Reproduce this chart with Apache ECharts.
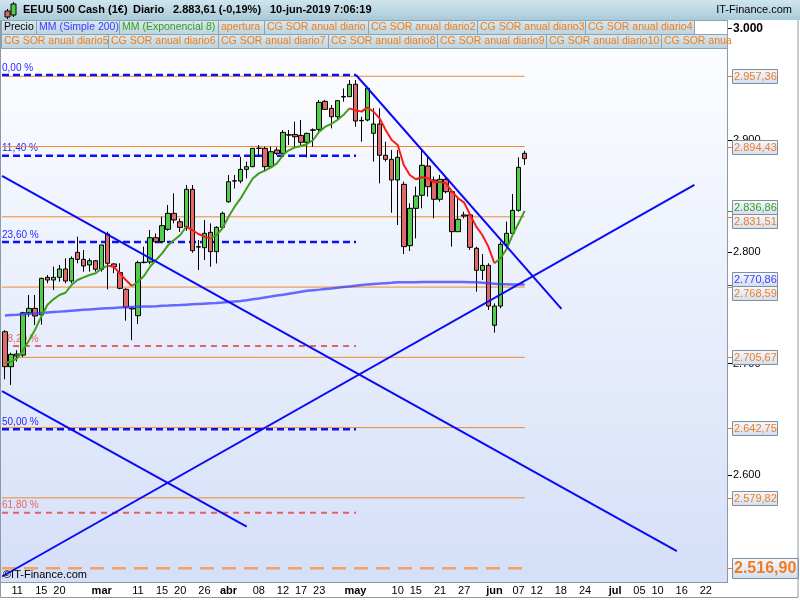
<!DOCTYPE html>
<html><head><meta charset="utf-8">
<script src="https://cdn.jsdelivr.net/npm/echarts@6/dist/echarts.min.js"></script>
<style>html,body{margin:0;padding:0;background:#fff;}#c{width:800px;height:600px;}</style>
</head><body><div id="c"></div>
<script>
// ---------- DATA ----------
const holidays = ['2019-04-19'];
const categories = (function () {
  const out = []; const d = new Date(Date.UTC(2019, 1, 7)); const end = Date.UTC(2019, 6, 25);
  while (d.getTime() <= end) {
    const wd = d.getUTCDay(); const s = d.toISOString().slice(0, 10);
    if (wd !== 0 && wd !== 6 && holidays.indexOf(s) < 0) out.push(s);
    d.setUTCDate(d.getUTCDate() + 1);
  }
  return out;
})();

const xTickLabels = [
  ['2019-02-11','11'],['2019-02-15','15'],['2019-02-20','20'],['2019-03-01','mar'],['2019-03-11','11'],
  ['2019-03-15','15'],['2019-03-20','20'],['2019-03-26','26'],['2019-04-01','abr'],['2019-04-08','08'],
  ['2019-04-12','12'],['2019-04-17','17'],['2019-04-23','23'],['2019-05-01','may'],['2019-05-10','10'],
  ['2019-05-15','15'],['2019-05-21','21'],['2019-05-27','27'],['2019-06-03','jun'],['2019-06-07','07'],
  ['2019-06-12','12'],['2019-06-18','18'],['2019-06-24','24'],['2019-07-01','jul'],['2019-07-05','05'],
  ['2019-07-10','10'],['2019-07-16','16'],['2019-07-22','22']
];
const monthLabels = ['mar','abr','may','jun','jul'];

const opens = [2728.6,2697.3,2706.8,2707.7,2745.6,2749.5,2743.6,2777.3,2774.9,2777.3,2784.8,2774.0,2799.7,2793.4,2788.4,2792.2,2784.5,2816.1,2789.3,2781.5,2766.6,2749.6,2743.0,2790.5,2791.0,2812.8,2809.2,2820.3,2834.6,2827.1,2822.6,2856.1,2804.7,2803.8,2817.6,2800.3,2822.1,2845.0,2863.8,2863.5,2874.0,2876.4,2892.8,2892.8,2876.4,2891.3,2888.3,2904.7,2905.3,2904.4,2898.2,2909.0,2909.8,2934.9,2928.6,2921.1,2938.8,2939.1,2950.2,2917.9,2918.2,2906.3,2914.6,2886.6,2883.0,2864.5,2860.6,2805.7,2839.1,2850.8,2877.0,2864.5,2847.2,2865.1,2854.0,2818.2,2832.2,2833.2,2803.3,2783.6,2788.0,2734.4,2751.6,2806.9,2816.7,2837.3,2888.4];
const closes = [2697.3,2708.3,2708.6,2745.6,2749.5,2742.7,2776.4,2774.9,2777.3,2784.8,2774.0,2794.3,2793.4,2787.5,2792.2,2784.5,2806.3,2789.9,2786.9,2767.5,2750.5,2749.0,2790.5,2790.9,2812.8,2809.2,2823.6,2834.6,2828.7,2822.0,2856.1,2801.2,2804.4,2816.7,2800.3,2822.1,2834.6,2862.9,2863.5,2874.0,2876.4,2892.8,2893.0,2876.4,2889.8,2888.3,2907.1,2905.0,2903.2,2898.2,2906.2,2909.4,2934.0,2927.7,2921.1,2935.5,2939.3,2950.1,2917.3,2917.5,2946.6,2914.6,2886.6,2883.0,2864.5,2884.8,2804.8,2839.1,2850.2,2877.6,2858.5,2847.2,2865.1,2854.0,2818.2,2829.3,2833.2,2804.2,2783.6,2788.0,2751.6,2751.6,2806.9,2816.7,2837.3,2875.8,2883.6];
const lows = [2686.0,2681.0,2702.0,2706.0,2742.0,2734.6,2735.0,2772.0,2766.0,2773.4,2772.0,2772.0,2789.9,2782.4,2782.4,2782.4,2782.4,2766.6,2781.0,2766.6,2738.5,2721.0,2735.5,2789.9,2789.0,2807.8,2808.0,2819.0,2825.7,2818.0,2819.0,2799.4,2783.8,2792.8,2786.8,2789.8,2821.0,2844.2,2856.9,2861.5,2865.9,2876.0,2885.0,2871.9,2874.9,2886.8,2888.0,2895.8,2894.3,2895.8,2884.7,2894.3,2907.7,2927.1,2910.7,2918.2,2934.6,2939.0,2912.2,2898.8,2917.0,2880.9,2861.5,2880.9,2835.2,2824.2,2798.2,2800.9,2812.2,2839.1,2849.6,2830.2,2845.1,2852.5,2804.8,2818.2,2830.2,2801.8,2764.5,2774.9,2748.1,2727.8,2749.6,2804.8,2815.2,2836.1,2877.9];
const highs = [2730.0,2709.8,2712.0,2746.5,2761.5,2761.5,2777.0,2779.4,2786.9,2788.4,2794.3,2796.0,2813.7,2801.8,2794.3,2792.8,2806.3,2818.2,2789.9,2789.9,2767.5,2751.0,2792.2,2804.8,2819.7,2816.7,2831.6,2842.1,2852.5,2830.0,2860.0,2860.0,2810.7,2828.6,2825.6,2823.0,2836.1,2868.9,2868.9,2885.3,2880.9,2892.8,2895.8,2894.3,2894.3,2893.7,2909.2,2909.2,2916.7,2918.2,2907.0,2910.7,2936.1,2936.1,2931.6,2936.1,2946.5,2954.0,2954.0,2921.2,2948.0,2928.7,2928.7,2898.8,2891.3,2891.3,2863.0,2843.6,2858.5,2891.3,2885.4,2867.5,2869.0,2867.5,2855.5,2848.0,2836.1,2836.1,2804.8,2798.2,2789.9,2754.0,2809.3,2827.2,2851.9,2884.8,2890.7];

const ema8 = [2700.9,2701.8,2704.7,2712.2,2721.2,2730.7,2742.1,2752.5,2757.6,2761.5,2763.5,2770.4,2774.9,2777.3,2779.4,2780.9,2785.3,2787.7,2786.8,2780.9,2774.9,2769.5,2773.4,2778.5,2786.8,2792.8,2798.8,2806.2,2810.7,2815.2,2822.6,2819.7,2816.1,2813.7,2812.2,2815.2,2821.2,2831.6,2840.6,2848.0,2857.0,2865.9,2870.4,2872.8,2875.8,2879.4,2886.8,2891.3,2893.7,2894.9,2896.7,2900.3,2907.7,2912.2,2914.6,2918.2,2922.6,2928.6,2927.0,2925.7,2929.4,2925.7,2919.7,2909.3,2900.3,2895.8,2877.9,2869.0,2865.1,2866.9,2866.0,2862.4,2862.8,2861.5,2854.0,2848.1,2844.2,2833.1,2822.7,2815.2,2804.8,2789.9,2794.3,2802.4,2815.2,2825.7,2836.86];

const sma200 = [2743.2,2743.6,2743.9,2744.3,2744.6,2745.0,2745.4,2745.8,2746.2,2746.6,2747.0,2747.4,2747.8,2748.2,2748.6,2749.0,2749.3,2749.6,2749.9,2750.2,2750.5,2750.7,2750.9,2751.1,2751.3,2751.5,2751.8,2752.0,2752.3,2752.5,2752.8,2753.1,2753.4,2753.7,2754.0,2754.3,2754.7,2755.2,2755.7,2756.2,2756.8,2757.6,2758.4,2759.3,2760.1,2761.0,2761.8,2762.7,2763.5,2764.4,2765.2,2765.8,2766.3,2766.9,2767.4,2768.0,2768.6,2769.2,2769.8,2770.4,2771.0,2771.4,2771.7,2772.1,2772.4,2772.8,2772.9,2773.0,2773.0,2773.1,2773.2,2773.2,2773.2,2773.2,2773.2,2773.2,2773.1,2773.0,2772.8,2772.4,2772.0,2771.6,2771.2,2771.1,2771.0,2770.9,2770.86];

// support / resistance levels (CG SOR anual) and last point index
const sorLevels = [2957.36, 2894.43, 2831.51, 2768.59, 2705.67, 2642.75, 2579.82];
const sorDashedLevel = 2516.90;
const sorEndIndex = 86;

// Fibonacci retracement levels
const fibLabels = ['0,00 %','11,40 %','23,60 %','38,20 %','50,00 %','61,80 %'];
const fibValues = [2958.5, 2886.2, 2808.9, 2715.9, 2641.2, 2566.6];
const fibKinds  = ['blue','blue','blue','red','blue','red'];
const fibEndIndex = 58.1;

// trend lines as [index, value] pairs
const trendLines = [
  [[58.1, 2958.5], [92.1, 2749.0]],
  [[-0.5, 2868.1], [111.2, 2532.2]],
  [[-0.5, 2675.5], [40.0, 2554.0]],
  [[-0.5, 2509.4], [114.1, 2860.0]]
];

const lastEma = 2836.86, lastSma = 2770.86;

// ---------- CHART ----------
const FONT = '"Liberation Sans", Arial, sans-serif';
const ORANGE = '#f07d1a', GREENT = '#3a9e1e', BLUET = '#3c3cff';
const labelMap = {}; xTickLabels.forEach(p => labelMap[p[0]] = p[1]);
const ohlc = opens.map((o, i) => [o, closes[i], lows[i], highs[i]]);

const emaUp = ema8.map(() => null), emaDown = ema8.map(() => null);
for (let i = 0; i < ema8.length - 1; i++) {
  const arr = ema8[i + 1] >= ema8[i] ? emaUp : emaDown;
  arr[i] = ema8[i]; arr[i + 1] = ema8[i + 1];
}

function fmtThousand(v) { return String(v).replace(/\B(?=(\d{3})+(?!\d))/g, '.'); }
function fmt2(v) { const s = v.toFixed(2).split('.'); return fmtThousand(s[0]) + ',' + s[1]; }

const series = [];
sorLevels.forEach(v => series.push({
  type: 'line', xAxisIndex: 1, yAxisIndex: 0, data: [[-0.5, v], [sorEndIndex, v]], symbol: 'none', silent: true,
  lineStyle: { color: '#f08a2a', width: 1 }, z: 1
}));
series.push({
  type: 'line', xAxisIndex: 1, yAxisIndex: 0, data: [[-0.5, sorDashedLevel], [sorEndIndex, sorDashedLevel]], symbol: 'none', silent: true,
  lineStyle: { color: '#f2a262', width: 2.5, type: [14, 8] }, z: 1
});
fibValues.forEach((v, k) => series.push({
  type: 'line', xAxisIndex: 1, yAxisIndex: 0, data: [[-0.5, v], [fibEndIndex, v]], symbol: 'none', silent: true,
  lineStyle: fibKinds[k] === 'blue' ? { color: '#1010f0', width: 2.5, type: [7, 4] } : { color: '#e06464', width: 2, type: [6, 5] }, z: 1
}));
series.push({
  type: 'candlestick', xAxisIndex: 0, yAxisIndex: 0, data: ohlc, barWidth: 5, silent: true,
  itemStyle: { color: '#52cd4c', color0: '#e06a6a', borderColor: '#000', borderColor0: '#000', borderWidth: 1 }, z: 3
});
series.push({ type: 'line', xAxisIndex: 0, yAxisIndex: 0, data: sma200, symbol: 'none', silent: true,
  lineStyle: { color: '#3a3aff', width: 2.5, opacity: 0.75 }, z: 4 });
series.push({ type: 'line', xAxisIndex: 0, yAxisIndex: 0, data: emaUp, symbol: 'none', silent: true, connectNulls: false,
  lineStyle: { color: '#3f9f1a', width: 2 }, z: 5 });
series.push({ type: 'line', xAxisIndex: 0, yAxisIndex: 0, data: emaDown, symbol: 'none', silent: true, connectNulls: false,
  lineStyle: { color: '#ff1a1a', width: 2 }, z: 5 });
trendLines.forEach(t => series.push({ type: 'line', xAxisIndex: 1, yAxisIndex: 0, data: t, symbol: 'none', silent: true,
  lineStyle: { color: '#0a0af5', width: 2 }, z: 6 }));

const chart = echarts.init(document.getElementById('c'), null, { renderer: 'canvas' });
chart.setOption({
  animation: false,
  backgroundColor: '#ffffff',
  grid: { left: 2, right: 73, top: 28.66, bottom: 13 },
  xAxis: [
    { type: 'category', data: categories, boundaryGap: true, axisLine: { show: false, onZero: false }, axisTick: { show: false }, splitLine: { show: false },
      axisLabel: { interval: (idx, val) => labelMap[val] !== undefined, hideOverlap: false,
        formatter: (val) => { const t = labelMap[val] || ''; return monthLabels.indexOf(t) >= 0 ? '{b|' + t + '}' : t; },
        margin: -2, color: '#000', fontSize: 11, fontFamily: FONT,
        rich: { b: { fontWeight: 'bold', fontSize: 11, fontFamily: FONT, color: '#000' } } } },
    { type: 'value', min: -0.5, max: 119.5, show: false, axisLine: { onZero: false } }
  ],
  yAxis: { type: 'value', position: 'right', min: 2500, max: 3000, interval: 100, splitLine: { show: false },
    axisLine: { show: false, onZero: false }, axisTick: { show: true, length: 5, lineStyle: { color: '#000' } },
    axisLabel: { margin: 6, showMinLabel: false, color: '#000', fontSize: 11, fontFamily: FONT,
      formatter: v => v === 3000 ? '{b|' + fmtThousand(v) + '}' : fmtThousand(v),
      rich: { b: { fontWeight: 'bold', fontSize: 12, fontFamily: FONT, color: '#000' } } } },
  series: series
});

// ---------- decorations (header, legend boxes, price tags) ----------
const g = [];
// plot background
g.push({ type: 'rect', z: 0, silent: true, shape: { x: 1, y: 48, width: 726, height: 534 },
  style: { fill: new echarts.graphic.LinearGradient(0, 0, 0, 1, [{ offset: 0, color: '#fcfdff' }, { offset: 1, color: '#d5dff8' }]) } });
// top bar
g.push({ type: 'rect', z: 100, silent: true, shape: { x: 0, y: 0, width: 800, height: 20 },
  style: { fill: new echarts.graphic.LinearGradient(0, 0, 0, 1, [{ offset: 0, color: '#cfe5ee' }, { offset: 1, color: '#a9cad9' }]) } });
// icon
g.push({ type: 'line', z: 101, shape: { x1: 7.5, y1: 9, x2: 7.5, y2: 19 }, style: { stroke: '#000', lineWidth: 1 } });
g.push({ type: 'rect', z: 102, shape: { x: 5, y: 11, width: 5, height: 6 }, style: { fill: '#e06a6a', stroke: '#000', lineWidth: 1 } });
g.push({ type: 'line', z: 101, shape: { x1: 13.5, y1: 2, x2: 13.5, y2: 17 }, style: { stroke: '#000', lineWidth: 1 } });
g.push({ type: 'rect', z: 102, shape: { x: 11, y: 4, width: 5, height: 11 }, style: { fill: '#52cd4c', stroke: '#000', lineWidth: 1 } });
const headerTexts = [[23, 'EEUU 500 Cash (1€)'], [133, 'Diario'], [173, '2.883,61 (-0,19%)'], [270, '10-jun-2019 7:06:19']];
headerTexts.forEach(h => g.push({ type: 'text', z: 101, silent: true, x: h[0], y: 10,
  style: { text: h[1], fill: '#000', font: 'bold 11px ' + FONT, verticalAlign: 'middle', align: 'left' } }));
g.push({ type: 'text', z: 101, silent: true, x: 792, y: 10,
  style: { text: 'IT-Finance.com', fill: '#000', font: '11px ' + FONT, verticalAlign: 'middle', align: 'right' } });

const row1 = [[1, 36, 'Precio', '#000'], [36, 119, 'MM (Simple 200)', BLUET], [119, 218, 'MM (Exponencial 8)', GREENT],
  [218, 264, 'apertura', ORANGE], [264, 368, 'CG SOR anual diario', ORANGE], [368, 477, 'CG SOR anual diario2', ORANGE],
  [477, 585, 'CG SOR anual diario3', ORANGE], [585, 694, 'CG SOR anual diario4', ORANGE], [694, 727, '', null]];
const row2 = [[1, 108, 'CG SOR anual diario5', ORANGE], [108, 218, 'CG SOR anual diario6', ORANGE], [218, 328, 'CG SOR anual diario7', ORANGE],
  [328, 437, 'CG SOR anual diario8', ORANGE], [437, 546, 'CG SOR anual diario9', ORANGE], [546, 661, 'CG SOR anual diario10', ORANGE],
  [661, 727, 'CG SOR anua', ORANGE]];
function legendRow(row, y) {
  row.forEach(b => {
    g.push({ type: 'rect', z: 100, silent: true, shape: { x: b[0] + 0.5, y: y + 0.5, width: b[1] - b[0], height: 14 },
      style: { fill: b[3] ? new echarts.graphic.LinearGradient(0, 0, 0, 1, [{ offset: 0, color: '#d9e9f0' }, { offset: 1, color: '#bcd3de' }]) : '#ffffff',
        stroke: '#8ba3b2', lineWidth: 1 } });
    if (b[2]) g.push({ type: 'text', z: 101, silent: true, x: b[0] + 3, y: y + 7.5,
      style: { text: b[2], fill: b[3], font: '10.5px ' + FONT, verticalAlign: 'middle', align: 'left' } });
  });
}
legendRow(row1, 20);
legendRow(row2, 34);

// frame
g.push({ type: 'line', z: 99, silent: true, shape: { x1: 727.5, y1: 20, x2: 727.5, y2: 582 }, style: { stroke: '#8a9aa8', lineWidth: 1 } });
g.push({ type: 'line', z: 99, silent: true, shape: { x1: 0, y1: 582.5, x2: 728, y2: 582.5 }, style: { stroke: '#8a9aa8', lineWidth: 1 } });
g.push({ type: 'rect', z: 99, silent: true, shape: { x: 0.5, y: 0.5, width: 797.5, height: 597 }, style: { fill: null, stroke: '#8a9aa8', lineWidth: 1 } });

// fib labels
fibValues.forEach((v, k) => {
  const py = chart.convertToPixel({ yAxisIndex: 0 }, v);
  g.push({ type: 'text', z: 1, silent: true, x: 2, y: py - 2,
    style: { text: fibLabels[k], fill: fibKinds[k] === 'blue' ? '#2a2aff' : '#e06868', font: '10px ' + FONT, verticalAlign: 'bottom', align: 'left' } });
});

// watermark
g.push({ type: 'text', z: 50, silent: true, x: 3, y: 575,
  style: { text: '©IT-Finance.com', fill: '#000', font: '11px ' + FONT, verticalAlign: 'middle', align: 'left' } });

// price tags
const tags = sorLevels.map(v => ({ v: v, c: ORANGE }));
tags.push({ v: lastEma, c: GREENT });
tags.push({ v: lastSma, c: BLUET });
tags.push({ v: sorDashedLevel, c: ORANGE, big: true });
tags.forEach(t => { t.py = chart.convertToPixel({ yAxisIndex: 0 }, t.v); t.ty = t.py; });
tags.sort((a, b) => a.py - b.py);
for (let i = 1; i < tags.length; i++) {
  if (tags[i].ty - tags[i - 1].ty < 14) {
    const mid = (tags[i].py + tags[i - 1].py) / 2;
    tags[i - 1].ty = mid - 7; tags[i].ty = mid + 7;
  }
}
tags.forEach(t => {
  const h = t.big ? 20 : 14, w = t.big ? 66 : 45;
  g.push({ type: 'line', z: 60, silent: true, shape: { x1: 727, y1: Math.round(t.py) + 0.5, x2: 732, y2: Math.round(t.py) + 0.5 },
    style: { stroke: t.c, lineWidth: 1 } });
  g.push({ type: 'rect', z: 60, silent: true, shape: { x: 732.5, y: Math.round(t.ty - h / 2) + 0.5, width: w, height: h },
    style: { fill: new echarts.graphic.LinearGradient(0, 0, 0, 1, [{ offset: 0, color: '#f6f9ff' }, { offset: 1, color: '#d3def2' }]), stroke: '#7d8e9c', lineWidth: 1 } });
  g.push({ type: 'text', z: 61, silent: true, x: 734, y: Math.round(t.ty) + 1,
    style: { text: fmt2(t.v), fill: t.c, font: (t.big ? 'bold 16px ' : '11px ') + FONT, verticalAlign: 'middle', align: 'left' } });
});

chart.setOption({ graphic: { elements: g } });
</script>
</body></html>
